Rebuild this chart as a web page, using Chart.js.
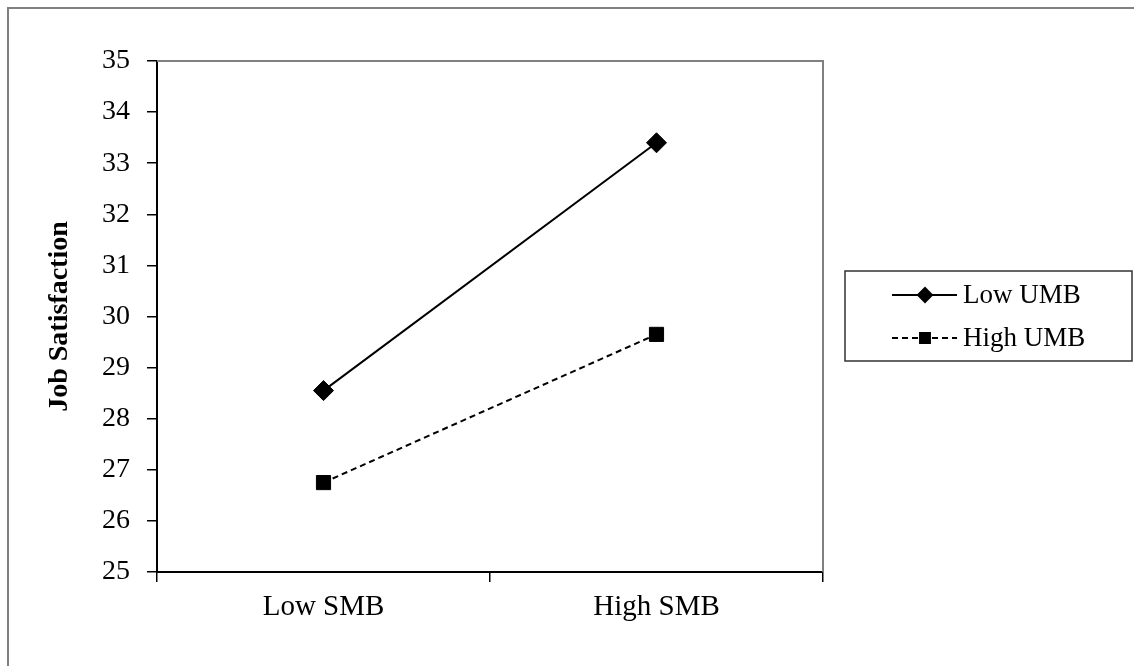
<!DOCTYPE html>
<html>
<head>
<meta charset="utf-8">
<script src="https://cdn.jsdelivr.net/npm/chart.js@4.4.1/dist/chart.umd.min.js"></script>
<style>
    body { margin: 0; background: #fff; }
    .chart-container { position: relative; width: 1134px; height: 666px; }
</style>
</head>
<body>
<div class="chart-container"><canvas id="interactionChart"></canvas></div>
<script>
// Data
const categories = ['Low SMB', 'High SMB'];
const seriesNames = ['Low UMB', 'High UMB'];
const lowUmbValues = [28.55, 33.4];
const highUmbValues = [26.75, 29.65];
const yTicks = [25, 26, 27, 28, 29, 30, 31, 32, 33, 34, 35];

const serif = "'Liberation Serif', 'Times New Roman', serif";

// Frame: outer page border, plot box top/right edges, boxed legend
const framePlugin = {
    id: 'frame',
    afterDraw(chart) {
        const ctx = chart.ctx;
        const area = chart.chartArea;
        ctx.save();

        // outer border (left + top only)
        ctx.strokeStyle = '#808080';
        ctx.lineWidth = 2;
        ctx.beginPath();
        ctx.moveTo(8, chart.height);
        ctx.lineTo(8, 8);
        ctx.lineTo(chart.width, 8);
        ctx.stroke();

        // plot area top and right edges
        ctx.beginPath();
        ctx.moveTo(area.left, area.top);
        ctx.lineTo(area.right, area.top);
        ctx.lineTo(area.right, area.bottom);
        ctx.stroke();

        // legend box
        const box = { x: 845, y: 271, w: 287, h: 90 };
        ctx.strokeStyle = '#333';
        ctx.lineWidth = 1.5;
        ctx.strokeRect(box.x, box.y, box.w, box.h);

        chart.data.datasets.forEach((ds, i) => {
            const y = box.y + 24 + i * 43;
            ctx.strokeStyle = '#000';
            ctx.lineWidth = 2;
            ctx.setLineDash(ds.borderDash || []);
            ctx.beginPath();
            ctx.moveTo(892, y);
            ctx.lineTo(957, y);
            ctx.stroke();
            ctx.setLineDash([]);
            Chart.helpers.drawPoint(ctx, {
                pointStyle: ds.pointStyle,
                radius: 7,
                borderWidth: 1
            }, 925, y);
            ctx.fillStyle = '#000';
            ctx.font = '27px ' + serif;
            ctx.textBaseline = 'middle';
            ctx.textAlign = 'left';
            ctx.fillText(ds.label, 963, y + 1);
        });
        ctx.restore();
    }
};

const ctx = document.getElementById('interactionChart');
new Chart(ctx, {
    type: 'line',
    data: {
        labels: categories,
        datasets: [{
            label: seriesNames[0],
            data: lowUmbValues,
            borderColor: '#000',
            backgroundColor: '#000',
            borderWidth: 2,
            pointStyle: 'rectRot',
            pointRadius: 10,
            pointBorderWidth: 1
        }, {
            label: seriesNames[1],
            data: highUmbValues,
            borderColor: '#000',
            backgroundColor: '#000',
            borderWidth: 2,
            borderDash: [6, 4],
            pointStyle: 'rect',
            pointRadius: 10,
            pointBorderWidth: 1
        }]
    },
    options: {
        responsive: true,
        maintainAspectRatio: false,
        animation: false,
        layout: {
            padding: { left: 40, top: 61, right: 311, bottom: 0 }
        },
        plugins: {
            legend: { display: false },
            tooltip: { enabled: false }
        },
        scales: {
            x: {
                offset: true,
                grid: {
                    offset: true,
                    drawOnChartArea: false,
                    tickLength: 10,
                    color: '#000',
                    lineWidth: 1.5
                },
                border: { color: '#000', width: 2 },
                ticks: {
                    color: '#000',
                    padding: 8,
                    font: { family: serif, size: 29 }
                },
                afterFit: scale => { scale.height = 94; }
            },
            y: {
                min: 25,
                max: 35,
                afterBuildTicks: scale => {
                    scale.ticks = yTicks.map(v => ({ value: v }));
                },
                grid: {
                    drawOnChartArea: false,
                    tickLength: 10,
                    color: '#000',
                    lineWidth: 1.5
                },
                border: { color: '#000', width: 2 },
                ticks: {
                    color: '#000',
                    padding: 17,
                    font: { family: serif, size: 28 }
                },
                title: {
                    display: true,
                    text: 'Job Satisfaction',
                    color: '#000',
                    padding: { top: 3, bottom: 0 },
                    font: { family: serif, size: 28, weight: 'bold' }
                },
                afterFit: scale => { scale.width = 117; }
            }
        }
    },
    plugins: [framePlugin]
});
</script>
</body>
</html>
